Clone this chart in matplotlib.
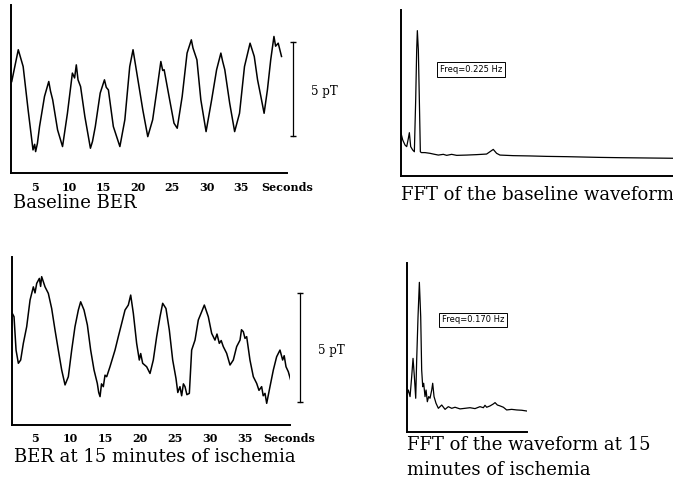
import matplotlib
matplotlib.use("Agg")
import matplotlib.pyplot as plt

# baseline BER waveform (seconds, pT)
base_t = [1.67, 2.62, 3.33, 4.05, 4.76, 5.0, 5.14, 5.4, 5.71, 6.43, 7.05, 7.3, 7.62, 8.33, 9.05,
          9.76, 10.48, 10.8, 11.05, 11.3, 11.67, 12.29, 13.10, 13.4, 13.81, 14.52, 15.14, 15.4, 15.71,
          16.43, 17.38, 18.10, 18.81, 19.29, 20.0, 20.71, 21.43, 22.14, 22.76,
          23.33, 23.6, 23.81, 24.52, 25.24, 25.71, 26.43, 27.14, 27.76, 28.0, 28.57, 29.14,
          29.90, 30.71, 31.43, 32.05, 32.3, 32.62, 33.33, 34.05, 34.76, 35.48, 36.29,
          36.90, 37.38, 37.86, 38.33, 38.81, 39.29, 39.76, 40.0, 40.38, 40.86]
base_v = [4.91, 6.61, 5.71, 3.39, 1.25, 1.55, 1.16, 1.6, 2.5, 4.11, 4.91, 4.4, 3.93, 2.32, 1.43,
          3.21, 5.36, 5.1, 5.80, 5.0, 4.64, 3.04, 1.34, 1.7, 2.5, 4.29, 5.0, 4.6, 4.46,
          2.5, 1.43, 2.86, 5.71, 6.61, 5.0, 3.39, 1.96, 2.86, 4.46,
          5.98, 5.5, 5.54, 4.11, 2.68, 2.41, 4.11, 6.43, 7.14, 6.7, 6.07, 3.93,
          2.23, 3.93, 5.54, 6.43, 6.0, 5.54, 3.75, 2.23, 3.21, 5.71, 6.96,
          6.25, 5.0, 4.11, 3.21, 4.46, 6.07, 7.32, 6.8, 6.96, 6.25]

# BER at 15 minutes of ischemia
isch_t = [1.76, 2.0, 2.29, 2.62, 2.95, 3.33, 3.81, 4.29, 4.76, 5.0, 5.24, 5.62, 5.8, 5.95,
          6.43, 6.90, 7.38, 7.86, 8.33, 8.81, 9.29, 9.76, 10.24, 10.71, 11.19,
          11.52, 12.0, 12.48, 12.95, 13.43, 13.90, 14.1, 14.29, 14.5, 14.76, 15.0, 15.24, 15.71,
          16.43, 16.90, 17.38, 17.86, 18.33, 18.67, 19.05, 19.52, 19.90, 20.1, 20.38,
          20.95, 21.43, 21.90, 22.38, 22.86, 23.24, 23.71, 24.19, 24.67, 25.14,
          25.4, 25.71, 25.95, 26.2, 26.43, 26.7, 27.05, 27.38, 27.86, 28.33, 28.81, 29.19, 29.76, 30.24,
          30.71, 31.0, 31.33, 31.6, 31.90, 32.38, 32.86, 33.33, 33.81, 34.29, 34.5, 34.76, 35.0, 35.24,
          35.71, 36.19, 36.67, 37.0, 37.38, 37.6, 37.86, 38.10, 38.57, 39.05, 39.52, 40.0,
          40.38, 40.6, 40.86, 41.19, 41.52]
isch_v = [5.15, 5.0, 3.46, 2.85, 3.0, 3.77, 4.54, 5.77, 6.38, 6.1, 6.54, 6.77, 6.4, 6.85,
          6.38, 6.08, 5.38, 4.38, 3.46, 2.54, 1.85, 2.23, 3.46, 4.54, 5.31,
          5.69, 5.31, 4.62, 3.46, 2.54, 1.92, 1.5, 1.31, 1.9, 1.77, 2.3, 2.23, 2.69,
          3.46, 4.08, 4.69, 5.31, 5.54, 6.0, 5.15, 3.77, 3.0, 3.3, 2.85,
          2.69, 2.38, 3.0, 4.08, 5.0, 5.62, 5.38, 4.38, 3.0, 2.15,
          1.5, 1.77, 1.35, 1.9, 1.77, 1.4, 1.46, 3.46, 3.92, 4.85, 5.23, 5.54, 5.0, 4.23,
          3.92, 4.2, 3.77, 3.9, 3.62, 3.31, 2.77, 3.0, 3.62, 3.92, 4.4, 4.31, 4.0, 4.08,
          3.0, 2.23, 1.92, 1.6, 1.77, 1.35, 1.46, 1.0, 1.77, 2.54, 3.15, 3.46,
          3.0, 3.2, 2.69, 2.46, 2.08]

# FFT spectra (Hz, relative amplitude)
fft_base_f = [0.0045, 0.027, 0.0585, 0.081, 0.1035, 0.117, 0.135, 0.162, 0.1845,
              0.2025, 0.216, 0.225, 0.2385, 0.252, 0.2655, 0.279, 0.3285, 0.396,
              0.441, 0.5085, 0.576, 0.621, 0.6885, 0.756, 0.891, 1.026, 1.161,
              1.206, 1.251, 1.296, 1.341, 1.521, 1.746, 1.971, 2.241, 2.421,
              2.691, 2.961, 3.321, 3.681]
fft_base_a = [29.4, 24.8, 21.3, 20.2, 25.9, 29.8, 20.2, 17.9, 16.7,
              52.3, 86.7, 100, 86.7, 52.3, 16.7, 16.1, 16.1, 15.6,
              15.1, 14.4, 14.9, 14.2, 14.9, 14.2, 14.4, 14.7, 15.1,
              16.7, 18.3, 15.6, 14.4, 14.0, 13.8, 13.5, 13.3, 13.1,
              12.8, 12.6, 12.4, 12.2]

fft_isch_f = [0.009, 0.022, 0.045, 0.067, 0.085, 0.103, 0.121, 0.134, 0.152, 0.170,
              0.188, 0.201, 0.215, 0.228, 0.246, 0.260, 0.277, 0.295, 0.313, 0.336,
              0.349, 0.367, 0.394, 0.425, 0.470, 0.515, 0.559, 0.604, 0.649, 0.716,
              0.783, 0.850, 0.917, 0.984, 1.029, 1.051, 1.074, 1.119, 1.163, 1.186,
              1.217, 1.253, 1.298, 1.342, 1.409, 1.477, 1.544, 1.611]
fft_isch_a = [26.0, 28.2, 23.8, 37.1, 49.3, 37.1, 22.7, 48.2, 77.1, 100,
              77.1, 41.6, 30.4, 32.7, 23.8, 28.2, 20.4, 23.8, 22.7, 28.2,
              32.7, 23.8, 19.3, 16.0, 18.2, 15.3, 17.1, 16.0, 16.7, 15.6,
              16.0, 16.4, 15.8, 17.1, 16.4, 18.0, 16.7, 17.6, 18.9, 19.8,
              18.2, 17.6, 16.7, 14.9, 15.3, 14.9, 14.7, 14.2]

tick_vals = [5, 10, 15, 20, 25, 30, 35]
tick_labels = ["5", "10", "15", "20", "25", "30", "35"]

serif = "DejaVu Serif"

fig = plt.figure(figsize=(6.73, 4.82), dpi=100)


def wave_panel(rect, t, v, xlim, ylim, sec_pos, bar_x, bar_lo, label_y, caption, cap_y):
    ax = fig.add_axes(rect)
    ax.plot(t, v, color="black", lw=1.1)
    ax.set_xlim(*xlim)
    ax.set_ylim(*ylim)
    for s in ["top", "right"]:
        ax.spines[s].set_visible(False)
    for s in ["left", "bottom"]:
        ax.spines[s].set_linewidth(1.4)
    ax.set_yticks([])
    ax.set_xticks(tick_vals + [sec_pos])
    ax.set_xticklabels(tick_labels + ["Seconds"], fontfamily=serif,
                       fontweight="bold", fontsize=8)
    ax.tick_params(axis="x", length=0, pad=6)
    # 5 pT scale bar
    ax.plot([bar_x, bar_x], [bar_lo, bar_lo + 5], color="black", lw=0.9,
            marker="_", markersize=5, clip_on=False)
    ax.text(bar_x + 2.6, label_y, "5 pT", fontfamily=serif, fontsize=8.5,
            va="center", ha="left")
    fig.text(rect[0] + 0.004, cap_y, caption, fontfamily=serif, fontsize=13,
             va="center", ha="left")
    return ax


def fft_panel(rect, f, a, xlim, ylim, box_x, box_y, label, caption_lines, cap_y):
    ax = fig.add_axes(rect)
    ax.plot(f, a, color="black", lw=0.9)
    ax.set_xlim(*xlim)
    ax.set_ylim(*ylim)
    for s in ["top", "right"]:
        ax.spines[s].set_visible(False)
    for s in ["left", "bottom"]:
        ax.spines[s].set_linewidth(1.4)
    ax.set_xticks([])
    ax.set_yticks([])
    ax.text(box_x, box_y, label, fontsize=6, fontfamily="DejaVu Sans",
            va="center", ha="left", clip_on=False,
            bbox=dict(boxstyle="square,pad=0.35", fc="white", ec="black", lw=0.7))
    for i, line in enumerate(caption_lines):
        fig.text(rect[0] + 0.001, cap_y - i * 0.052, line, fontfamily=serif,
                 fontsize=13, va="center", ha="left")
    return ax


wave_panel([0.0159, 0.6405, 0.411, 0.349], base_t, base_v, (1.52, 41.05), (0, 9.0),
           41.7, 42.6, 2.0, 4.4, "Baseline BER", 1 - 203 / 482)
wave_panel([0.0174, 0.1183, 0.4135, 0.349], isch_t, isch_v, (1.67, 41.43), (0, 7.77),
           41.3, 42.86, 1.08, 3.46, "BER at 15 minutes of ischemia", 1 - 457 / 482)

fft_panel([400.7 / 673, 1 - 176 / 482, 272.3 / 673, 166 / 482], fft_base_f, fft_base_a,
          (0, 3.68), (0, 114.2), 0.53, 73.4, "Freq=0.225 Hz",
          ["FFT of the baseline waveform"], 1 - 195 / 482)
fft_panel([406.7 / 673, 1 - 432.3 / 482, 120 / 673, 169.6 / 482], fft_isch_f, fft_isch_a,
          (0, 1.611), (0, 113.1), 0.474, 74.9, "Freq=0.170 Hz",
          ["FFT of the waveform at 15", "minutes of ischemia"], 1 - 445 / 482)

fig.savefig("out.png", dpi=100)
